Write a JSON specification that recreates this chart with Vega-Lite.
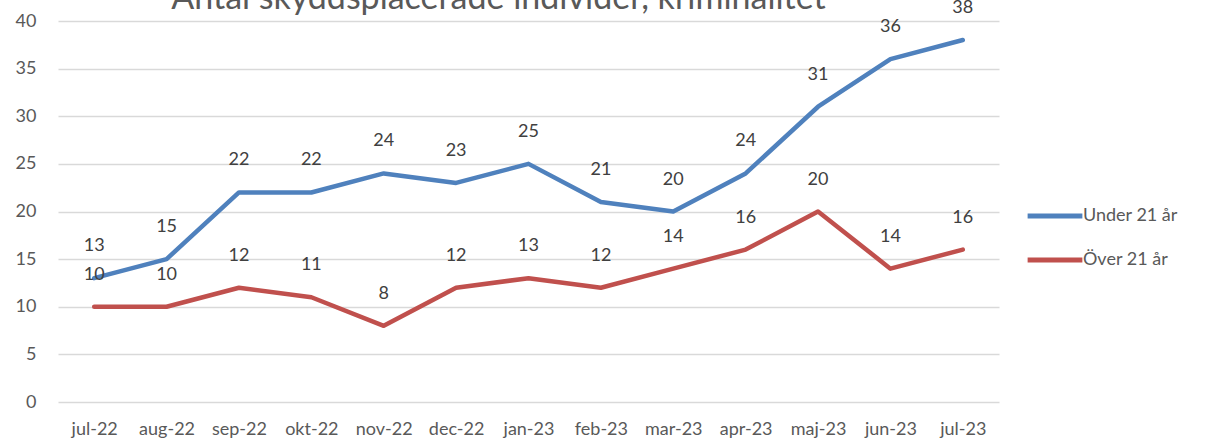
{
  "$schema": "https://vega.github.io/schema/vega-lite/v6.json",
  "width": 941,
  "height": 381,
  "autosize": {"type": "none"},
  "padding": {"left": 58, "top": 21, "right": 207, "bottom": 37},
  "background": "white",
  "title": {
    "text": "Antal skyddsplacerade individer, kriminalitet",
    "font": "Lato",
    "fontSize": 34,
    "fontWeight": "normal",
    "color": "#595959",
    "anchor": "middle",
    "dx": -30,
    "offset": -17
  },
  "data": {
    "values": [
      {"month": "jul-22", "serie": "Under 21 år", "value": 13},
      {"month": "aug-22", "serie": "Under 21 år", "value": 15},
      {"month": "sep-22", "serie": "Under 21 år", "value": 22},
      {"month": "okt-22", "serie": "Under 21 år", "value": 22},
      {"month": "nov-22", "serie": "Under 21 år", "value": 24},
      {"month": "dec-22", "serie": "Under 21 år", "value": 23},
      {"month": "jan-23", "serie": "Under 21 år", "value": 25},
      {"month": "feb-23", "serie": "Under 21 år", "value": 21},
      {"month": "mar-23", "serie": "Under 21 år", "value": 20},
      {"month": "apr-23", "serie": "Under 21 år", "value": 24},
      {"month": "maj-23", "serie": "Under 21 år", "value": 31},
      {"month": "jun-23", "serie": "Under 21 år", "value": 36},
      {"month": "jul-23", "serie": "Under 21 år", "value": 38},
      {"month": "jul-22", "serie": "Över 21 år", "value": 10},
      {"month": "aug-22", "serie": "Över 21 år", "value": 10},
      {"month": "sep-22", "serie": "Över 21 år", "value": 12},
      {"month": "okt-22", "serie": "Över 21 år", "value": 11},
      {"month": "nov-22", "serie": "Över 21 år", "value": 8},
      {"month": "dec-22", "serie": "Över 21 år", "value": 12},
      {"month": "jan-23", "serie": "Över 21 år", "value": 13},
      {"month": "feb-23", "serie": "Över 21 år", "value": 12},
      {"month": "mar-23", "serie": "Över 21 år", "value": 14},
      {"month": "apr-23", "serie": "Över 21 år", "value": 16},
      {"month": "maj-23", "serie": "Över 21 år", "value": 20},
      {"month": "jun-23", "serie": "Över 21 år", "value": 14},
      {"month": "jul-23", "serie": "Över 21 år", "value": 16}
    ]
  },
  "encoding": {
    "x": {
      "field": "month",
      "type": "ordinal",
      "sort": null,
      "scale": {"type": "point", "padding": 0.5},
      "axis": {
        "title": null,
        "labelAngle": 0,
        "labelFont": "Lato",
        "labelFontSize": 18,
        "labelColor": "#595959",
        "labelPadding": 18,
        "ticks": false,
        "domain": false,
        "grid": false
      }
    },
    "y": {
      "field": "value",
      "type": "quantitative",
      "scale": {"domain": [0, 40], "nice": false},
      "axis": {
        "title": null,
        "values": [0, 5, 10, 15, 20, 25, 30, 35, 40],
        "labelFont": "Lato",
        "labelFontSize": 18,
        "labelColor": "#595959",
        "labelPadding": 22,
        "ticks": false,
        "domain": false,
        "gridColor": "#d9d9d9",
        "gridWidth": 1.5
      }
    }
  },
  "layer": [
    {
      "mark": {"type": "line", "strokeWidth": 4.5, "strokeCap": "round", "strokeJoin": "round"},
      "encoding": {
        "color": {
          "field": "serie",
          "type": "nominal",
          "scale": {"domain": ["Under 21 år", "Över 21 år"], "range": ["#4f81bd", "#c0504d"]},
          "legend": {
            "title": null,
            "orient": "none",
            "legendX": 967,
            "legendY": 184,
            "symbolType": "stroke",
            "symbolSize": 3000,
            "symbolStrokeWidth": 5,
            "labelFont": "Lato",
            "labelFontSize": 18,
            "labelColor": "#595959",
            "clipHeight": 22,
            "rowPadding": 22,
            "labelOffset": -2
          }
        }
      }
    },
    {
      "mark": {"type": "text", "dy": -32, "font": "Lato", "fontSize": 18, "color": "#404040"},
      "encoding": {
        "text": {"field": "value", "type": "quantitative"},
        "detail": {"field": "serie"}
      }
    }
  ],
  "config": {"view": {"stroke": null}}
}
